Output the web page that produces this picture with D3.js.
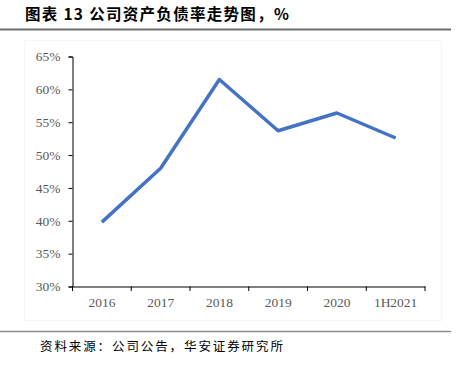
<!DOCTYPE html>
<html><head><meta charset="utf-8">
<script src="https://cdn.jsdelivr.net/npm/d3@7"></script>
<style>body{margin:0;background:#fff}</style>
</head><body>
<script>
const categories = ["2016","2017","2018","2019","2020","1H2021"];
const values = [39.8, 48.0, 61.5, 53.7, 56.4, 52.6];
const yTicks = [30,35,40,45,50,55,60,65];
const titleText = "图表 13 公司资产负债率走势图，%";
const sourceText = "资料来源：公司公告，华安证券研究所";

const W = 471, H = 368;
const svg = d3.select("body").append("svg").attr("width", W).attr("height", H);

svg.append("text").attr("x", 25).attr("y", 20)
  .attr("font-family", "'Noto Sans CJK SC', sans-serif").attr("font-weight", "bold")
  .attr("font-size", 15.5).attr("letter-spacing", 1.3).attr("fill", "#000").text(titleText);
svg.append("line").attr("x1", 0).attr("x2", 451).attr("y1", 29.5).attr("y2", 29.5)
  .attr("stroke", "#6e6e6e").attr("stroke-width", 1.8);

svg.append("rect").attr("x", 24.5).attr("y", 40.5).attr("width", 417).attr("height", 280)
  .attr("fill", "none").attr("stroke", "#f6f6f6");

const x = d3.scaleBand().domain(categories).range([72.5, 425]);
const y = d3.scaleLinear().domain([30, 65]).range([286.5, 56.5]);

const gy = svg.append("g").attr("transform", "translate(72.5,0)")
  .call(d3.axisLeft(y).tickValues(yTicks).tickFormat(d => d + "%").tickSizeOuter(0).tickSize(4));
gy.select(".domain").attr("stroke", "#000");
gy.selectAll(".tick line").attr("stroke", "#000");
gy.selectAll(".tick text").attr("font-family", "'Liberation Serif', serif").attr("font-size", 13.5)
  .attr("fill", "#595959").attr("x", -12);

const gx = svg.append("g").attr("transform", "translate(0,286.5)")
  .call(d3.axisBottom(x).tickSize(0).tickSizeOuter(0));
gx.select(".domain").attr("stroke", "#000");
gx.selectAll(".tick text").attr("font-family", "'Liberation Serif', serif").attr("font-size", 13.5)
  .attr("fill", "#595959").attr("dy", "1.1em").attr("y", 6);
const bounds = categories.map(c => x(c)).concat([x.range()[1]]);
svg.append("g").selectAll("line").data(bounds).join("line")
  .attr("x1", d => d).attr("x2", d => d).attr("y1", 286.5).attr("y2", 291)
  .attr("stroke", "#000");

const line = d3.line().x((d, i) => x(categories[i]) + x.bandwidth() / 2).y(d => y(d));
svg.append("path").datum(values).attr("d", line).attr("fill", "none")
  .attr("stroke", "#4472C4").attr("stroke-width", 3.5).attr("stroke-linejoin", "round");

svg.append("line").attr("x1", 0).attr("x2", 451).attr("y1", 331.5).attr("y2", 331.5)
  .attr("stroke", "#8c8c8c").attr("stroke-width", 1.5);
svg.append("text").attr("x", 40).attr("y", 351)
  .attr("font-family", "'Noto Sans CJK SC', sans-serif").attr("font-size", 12.5)
  .attr("letter-spacing", 1.9).attr("fill", "#000").text(sourceText);
</script>
</body></html>
